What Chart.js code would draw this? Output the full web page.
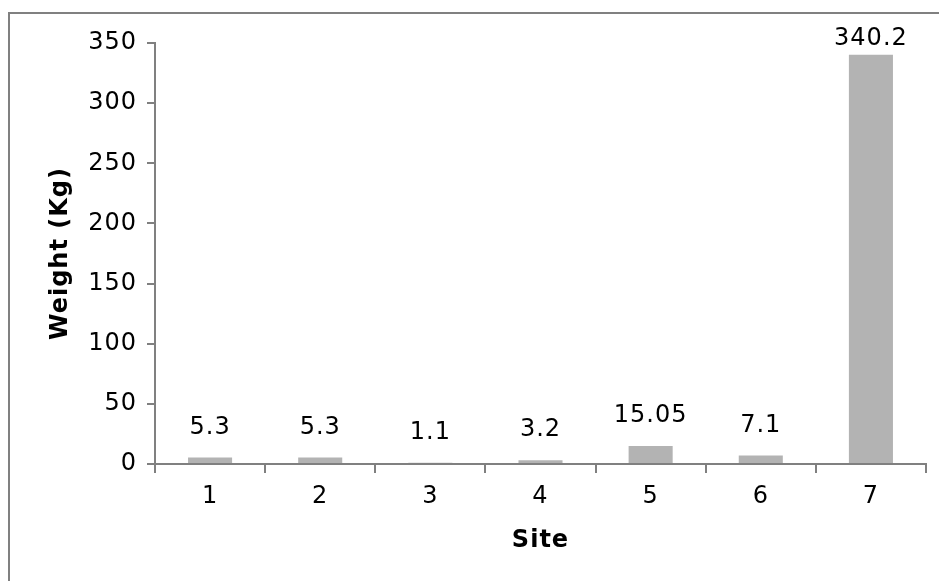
<!DOCTYPE html>
<html>
<head>
<meta charset="utf-8">
<script src="https://cdn.jsdelivr.net/npm/chart.js@4/dist/chart.umd.min.js"></script>
<style>
  html, body { margin: 0; padding: 0; background: #fff; }
  canvas { display: block; }
</style>
</head>
<body>
<canvas id="c" width="939" height="581"></canvas>
<script>
// Weight collected at each site
const sites = ['1', '2', '3', '4', '5', '6', '7'];
const weights = [5.3, 5.3, 1.1, 3.2, 15.05, 7.1, 340.2];
const weightLabels = ['5.3', '5.3', '1.1', '3.2', '15.05', '7.1', '340.2'];

const FONT = 'DejaVu Sans, Verdana, sans-serif';
const SIZE = 24;
const SPACING = '1px';
const AXIS_GREY = '#808080';
const TEXT = '#000';

// Slightly spaced lettering for every piece of text
const spacingPlugin = {
  id: 'spacing',
  beforeLayout(chart) { chart.ctx.letterSpacing = SPACING; },
  beforeDraw(chart) { chart.ctx.letterSpacing = SPACING; }
};

// White background plus the grey frame round the chart
const framePlugin = {
  id: 'frame',
  beforeDraw(chart) {
    const ctx = chart.ctx;
    ctx.save();
    ctx.fillStyle = '#fff';
    ctx.fillRect(0, 0, chart.width, chart.height);
    ctx.strokeStyle = AXIS_GREY;
    ctx.lineWidth = 2;
    ctx.strokeRect(9, 13, chart.width + 50, chart.height + 50);
    ctx.restore();
  }
};

// Value labels above each bar
const valueLabelPlugin = {
  id: 'valueLabels',
  afterDatasetsDraw(chart) {
    const ctx = chart.ctx;
    const meta = chart.getDatasetMeta(0);
    ctx.save();
    ctx.letterSpacing = SPACING;
    ctx.font = SIZE + 'px ' + FONT;
    ctx.fillStyle = TEXT;
    ctx.textAlign = 'center';
    ctx.textBaseline = 'middle';
    meta.data.forEach((bar, i) => {
      const y = Math.max(bar.y - 30, chart.chartArea.top - 4);
      ctx.fillText(weightLabels[i], bar.x, y);
    });
    ctx.restore();
  }
};

new Chart(document.getElementById('c'), {
  type: 'bar',
  data: {
    labels: sites,
    datasets: [{
      data: weights,
      backgroundColor: '#b3b3b3',
      borderWidth: 0,
      categoryPercentage: 1,
      barPercentage: 0.4
    }]
  },
  options: {
    responsive: false,
    animation: false,
    devicePixelRatio: 1,
    layout: { padding: { top: 43, right: 13, left: 0, bottom: 0 } },
    plugins: {
      legend: { display: false },
      tooltip: { enabled: false }
    },
    scales: {
      x: {
        grid: {
          display: true,
          drawOnChartArea: false,
          drawTicks: true,
          tickLength: 9,
          color: AXIS_GREY,
          lineWidth: 2
        },
        border: { display: true, color: AXIS_GREY, width: 2 },
        ticks: {
          color: TEXT,
          font: { family: FONT, size: SIZE },
          padding: 9,
          maxRotation: 0
        },
        title: {
          display: true,
          text: 'Site',
          color: TEXT,
          font: { family: FONT, size: SIZE, weight: 'bold' },
          padding: { top: 0, bottom: 26 }
        },
        afterFit(scale) { scale.height = 117; }
      },
      y: {
        min: 0,
        max: 350,
        grid: {
          display: true,
          drawOnChartArea: false,
          drawTicks: true,
          tickLength: 8,
          color: AXIS_GREY,
          lineWidth: 2
        },
        border: { display: true, color: AXIS_GREY, width: 2 },
        ticks: {
          stepSize: 50,
          color: TEXT,
          font: { family: FONT, size: SIZE },
          padding: 10
        },
        title: {
          display: true,
          text: 'Weight (Kg)',
          color: TEXT,
          font: { family: FONT, size: SIZE, weight: 'bold' },
          padding: { top: 46, bottom: 0 }
        },
        afterFit(scale) { scale.width = 155; }
      }
    }
  },
  plugins: [spacingPlugin, framePlugin, valueLabelPlugin]
});
</script>
</body>
</html>
